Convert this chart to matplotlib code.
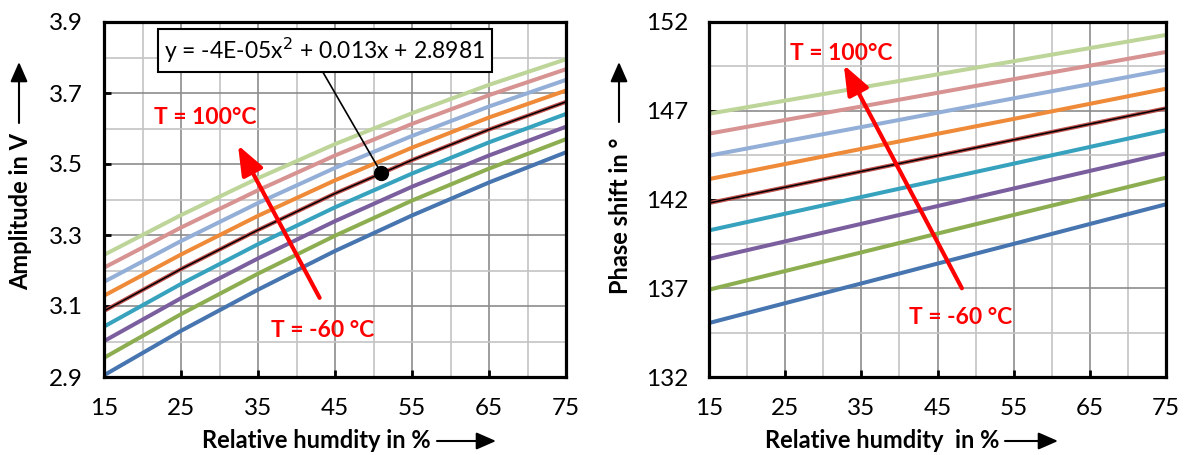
import matplotlib.pyplot as plt
from matplotlib.patches import FancyArrowPatch

plt.rcParams['font.family'] = ['Lato', 'DejaVu Sans']

# relative humidity in %
humidity = [15, 25, 35, 45, 55, 65, 75]
temperatures = [-60, -40, -20, 0, 20, 40, 60, 80, 100]

# amplitude in V, one row per temperature (-60 .. 100 degC)
amp_m60 = [2.905, 3.030, 3.146, 3.255, 3.355, 3.448, 3.533]
amp_m40 = [2.954, 3.077, 3.191, 3.298, 3.397, 3.487, 3.570]
amp_m20 = [3.001, 3.122, 3.234, 3.339, 3.436, 3.524, 3.605]
amp_0 = [3.042, 3.162, 3.274, 3.378, 3.473, 3.561, 3.641]
amp_20 = [3.086, 3.204, 3.314, 3.417, 3.511, 3.597, 3.675]
amp_40 = [3.129, 3.245, 3.354, 3.454, 3.546, 3.631, 3.707]
amp_60 = [3.168, 3.283, 3.390, 3.489, 3.579, 3.662, 3.737]
amp_80 = [3.208, 3.321, 3.426, 3.524, 3.613, 3.694, 3.767]
amp_100 = [3.244, 3.356, 3.460, 3.556, 3.643, 3.723, 3.795]

# phase shift in degrees
ph_m60 = [135.04, 136.16, 137.27, 138.39, 139.50, 140.62, 141.73]
ph_m40 = [136.92, 137.97, 139.02, 140.08, 141.13, 142.18, 143.23]
ph_m20 = [138.65, 139.64, 140.63, 141.63, 142.62, 143.61, 144.60]
ph_0 = [140.26, 141.20, 142.14, 143.08, 144.02, 144.96, 145.90]
ph_20 = [141.80, 142.69, 143.58, 144.47, 145.36, 146.25, 147.14]
ph_40 = [143.15, 144.00, 144.85, 145.70, 146.54, 147.39, 148.24]
ph_60 = [144.47, 145.28, 146.08, 146.89, 147.70, 148.50, 149.31]
ph_80 = [145.71, 146.48, 147.24, 148.01, 148.78, 149.54, 150.31]
ph_100 = [146.83, 147.57, 148.31, 149.05, 149.79, 150.53, 151.27]

amplitude = [amp_m60, amp_m40, amp_m20, amp_0, amp_20, amp_40, amp_60, amp_80, amp_100]
phase = [ph_m60, ph_m40, ph_m20, ph_0, ph_20, ph_40, ph_60, ph_80, ph_100]

# point picked out by the trendline label
trend_point_rh = 51
trend_point_amp = 3.475
trend_label = "y = -4E-05x$^{2}$ + 0.013x + 2.8981"

colors = ['#4675B0', '#8DAE50', '#7A5E9E', '#36A2BE', '#C0504D',
          '#EE8A38', '#93AFD7', '#D79391', '#BDD598']
TREND_INDEX = 4

W, H = 1185, 455


def fig_px(x, y):
    # top-left based pixel -> figure pixels
    return (x, H - y)


def style_axes(ax, yticks, yminor, ylim):
    ax.set_xlim(15, 75)
    ax.set_ylim(*ylim)
    ax.set_xticks([15, 25, 35, 45, 55, 65, 75])
    ax.set_xticks([20, 30, 40, 50, 60, 70], minor=True)
    ax.set_yticks(yticks)
    ax.set_yticks(yminor, minor=True)
    ax.grid(which='major', color='#8c8c8c', lw=1.2, zorder=0)
    ax.grid(which='minor', color='#c4c4c4', lw=1.2, zorder=0)
    ax.set_axisbelow(True)
    ax.tick_params(which='major', direction='in', length=5, width=2,
                   labelsize=17.5, pad=15)
    ax.tick_params(which='minor', length=0)
    for s in ax.spines.values():
        s.set_linewidth(2.3)
        s.set_color('black')
        s.set_zorder(5)


def draw_series(ax, series):
    for i, vals in enumerate(series):
        ax.plot(humidity, vals, color=colors[i], lw=2.9, zorder=3,
                solid_capstyle='butt', clip_on=False)
        if i == TREND_INDEX:
            ax.plot(humidity, vals, color='black', lw=1.1, zorder=4,
                    clip_on=False)


def red_arrow(ax, head, tail):
    ax.annotate('', xy=head, xytext=tail,
                arrowprops=dict(arrowstyle='-|>,head_length=0.9,head_width=0.35',
                                mutation_scale=20, lw=3, color='red',
                                shrinkA=0, shrinkB=0), zorder=6)


fig = plt.figure(figsize=(W / 100, H / 100), dpi=100)

ax1 = fig.add_axes([104 / W, 78 / H, 462 / W, 355 / H])
ax2 = fig.add_axes([709 / W, 78 / H, 457 / W, 355 / H])

# amplitude panel
style_axes(ax1, [2.9, 3.1, 3.3, 3.5, 3.7, 3.9], [3.0, 3.2, 3.4, 3.6, 3.8], (2.9, 3.9))
ax1.set_yticklabels(['2.9', '3.1', '3.3', '3.5', '3.7', '3.9'])
draw_series(ax1, amplitude)
ax1.plot(trend_point_rh, trend_point_amp, 'o', color='black', ms=10, zorder=6)
ax1.annotate(trend_label, xy=(trend_point_rh, trend_point_amp), xytext=(43.7, 3.821),
             ha='center', va='center', fontsize=16.5, zorder=7,
             bbox=dict(boxstyle='square,pad=0.3', fc='white', ec='black', lw=1.5),
             arrowprops=dict(arrowstyle='-', color='black', lw=1.2,
                             relpos=(0.48, 0), shrinkA=0, shrinkB=0))
red_arrow(ax1, (32.4, 3.553), (43.0, 3.123))
ax1.text(28.2, 3.63, 'T = 100°C', color='red', fontsize=16.5, fontweight='bold',
         ha='center', va='center', zorder=7)
ax1.text(43.4, 3.032, 'T = -60 °C', color='red', fontsize=16.5, fontweight='bold',
         ha='center', va='center', zorder=7)

# phase panel
style_axes(ax2, [132, 137, 142, 147, 152], [134.5, 139.5, 144.5, 149.5], (132, 152))
draw_series(ax2, phase)
red_arrow(ax2, (32.7, 149.58), (48.2, 137.0))
ax2.text(32.3, 150.25, 'T = 100°C', color='red', fontsize=16.5, fontweight='bold',
         ha='center', va='center', zorder=7)
ax2.text(48.0, 135.38, 'T = -60 °C', color='red', fontsize=16.5, fontweight='bold',
         ha='center', va='center', zorder=7)

# axis titles with arrows, placed in figure pixels
label_kw = dict(fontsize=17, fontweight='bold', va='center')
arrow_kw = dict(arrowstyle='-|>,head_length=0.8,head_width=0.35', mutation_scale=15,
                color='black', lw=1.5, shrinkA=0, shrinkB=0)

fig.text(21 / W, 1 - 212 / H, 'Amplitude in V', rotation=90, ha='center', **label_kw)
fig.add_artist(FancyArrowPatch(fig_px(19, 123), fig_px(19, 62), transform=None, **arrow_kw))
fig.text(431 / W, 1 - 441 / H, 'Relative humdity in %', ha='right', **label_kw)
fig.add_artist(FancyArrowPatch(fig_px(437, 441), fig_px(496, 441), transform=None, **arrow_kw))

fig.text(620 / W, 1 - 216 / H, 'Phase shift in °', rotation=90, ha='center', **label_kw)
fig.add_artist(FancyArrowPatch(fig_px(619, 122), fig_px(619, 62), transform=None, **arrow_kw))
fig.text(999 / W, 1 - 441 / H, 'Relative humdity  in %', ha='right', **label_kw)
fig.add_artist(FancyArrowPatch(fig_px(1005, 441), fig_px(1058, 441), transform=None, **arrow_kw))

fig.savefig('out.png', dpi=100)
